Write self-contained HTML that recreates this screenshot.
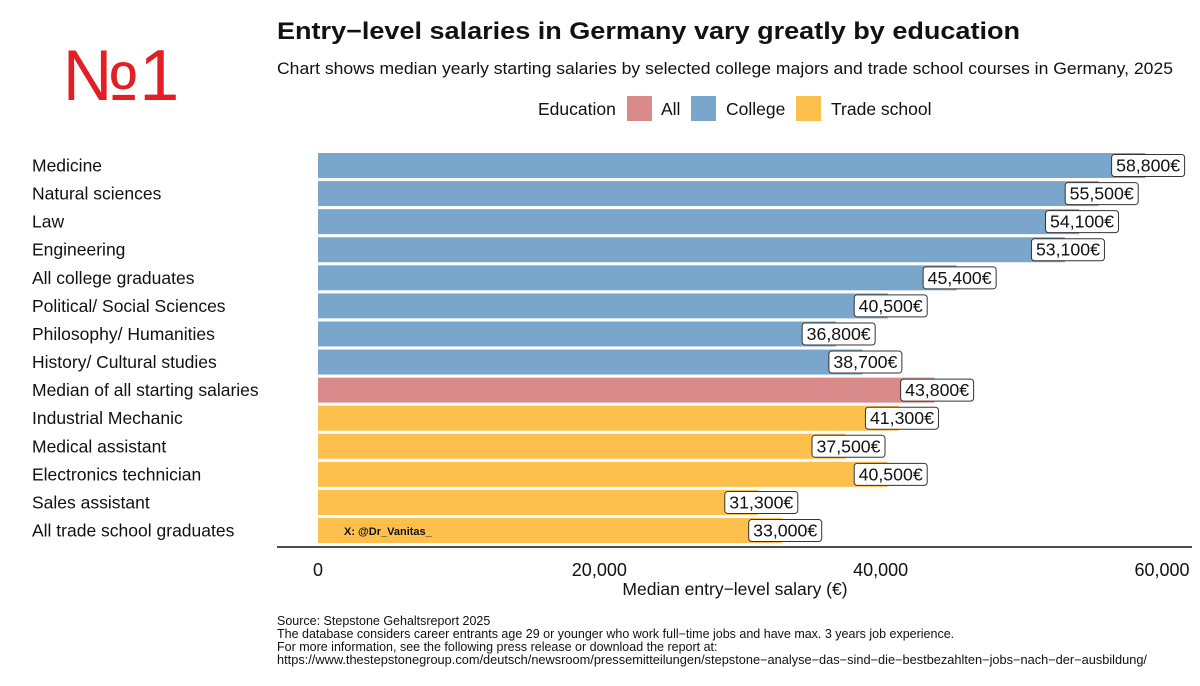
<!DOCTYPE html>
<html><head><meta charset="utf-8"><style>
body{margin:0;background:#fff;width:1200px;height:681px;overflow:hidden;font-family:"Liberation Sans",Arial,sans-serif}
</style></head><body>
<svg id="c" width="1200" height="681" xmlns="http://www.w3.org/2000/svg" font-family="Liberation Sans, Arial, sans-serif">
<text x="62" y="100" font-size="72" fill="#e31e24">№1</text>
<text x="277" y="39" font-size="24" font-weight="bold" fill="#111" textLength="743" lengthAdjust="spacingAndGlyphs">Entry−level salaries in Germany vary greatly by education</text>
<text x="277" y="74" font-size="16.5" fill="#111" textLength="896" lengthAdjust="spacingAndGlyphs">Chart shows median yearly starting salaries by selected college majors and trade school courses in Germany, 2025</text>
<g font-size="17.5" fill="#111">
<text x="538" y="115">Education</text>
<rect x="627" y="96" width="25" height="25" fill="#d98b8c"/>
<text x="661" y="115">All</text>
<rect x="691" y="96" width="25" height="25" fill="#7ba6cb"/>
<text x="726" y="115">College</text>
<rect x="796" y="96" width="25" height="25" fill="#fec04d"/>
<text x="831" y="115">Trade school</text>
</g>
<g id="bars"></g>
<line x1="277" y1="547" x2="1192" y2="547" stroke="#111" stroke-width="1.5"/>
<g id="ticks" font-size="18" fill="#111"></g>
<text x="735" y="595" font-size="17.5" text-anchor="middle" fill="#111">Median entry−level salary (€)</text>
<text x="344" y="535" font-size="11" font-weight="bold" fill="#111">X: @Dr_Vanitas_</text>
<g font-size="12.5" fill="#111">
<text x="277" y="625">Source: Stepstone Gehaltsreport 2025</text>
<text x="277" y="638">The database considers career entrants age 29 or younger who work full−time jobs and have max. 3 years job experience.</text>
<text x="277" y="651">For more information, see the following press release or download the report at:</text>
<text x="277" y="664" textLength="870" lengthAdjust="spacingAndGlyphs">https://www.thestepstonegroup.com/deutsch/newsroom/pressemitteilungen/stepstone−analyse−das−sind−die−bestbezahlten−jobs−nach−der−ausbildung/</text>
</g>
</svg>
<script>
const categories=["Medicine","Natural sciences","Law","Engineering","All college graduates","Political/ Social Sciences","Philosophy/ Humanities","History/ Cultural studies","Median of all starting salaries","Industrial Mechanic","Medical assistant","Electronics technician","Sales assistant","All trade school graduates"];
const values=[58800,55500,54100,53100,45400,40500,36800,38700,43800,41300,37500,40500,31300,33000];
const groups=["College","College","College","College","College","College","College","College","All","Trade","Trade","Trade","Trade","Trade"];
const tickValues=[0,20000,40000,60000];
const tickLabels=["0","20,000","40,000","60,000"];
const colors={College:"#7ba6cb",All:"#d98b8c",Trade:"#fec04d"};
const NS="http://www.w3.org/2000/svg";
const x=v=>318+v*(1162-318)/60000;
const yTop=i=>153+i*28.08;
const bh=25;
const bars=document.getElementById('bars');
function mk(t,a,p){const e=document.createElementNS(NS,t);for(const k in a)e.setAttribute(k,a[k]);p.appendChild(e);return e;}
categories.forEach((c,i)=>{
  const r=mk('rect',{x:318,y:yTop(i),width:x(values[i])-318,height:bh,fill:colors[groups[i]]},bars);
  
  
  const l=mk('text',{x:32,y:yTop(i)+bh/2+6,'font-size':17.5,fill:'#111'},bars);
  l.textContent=c;
  
  
  const txt=values[i].toLocaleString('en-US')+'€';
  const w=73, cx=x(values[i])+3;
  const b=mk('rect',{x:cx-w/2,y:yTop(i)+1.5,width:w,height:22,rx:3,fill:'#fff',stroke:'#333','stroke-width':1},bars);
  
  
  const t=mk('text',{x:cx,y:yTop(i)+bh/2+6,'font-size':17.5,'text-anchor':'middle',fill:'#111',textLength:64,lengthAdjust:'spacingAndGlyphs'},bars);
  t.textContent=txt;
  
  
});
const ticks=document.getElementById('ticks');
tickValues.forEach((v,i)=>{
  const t=mk('text',{x:x(v),y:576,'text-anchor':'middle'},ticks);
  t.textContent=tickLabels[i];
  
  
});
</script>
</body></html>
